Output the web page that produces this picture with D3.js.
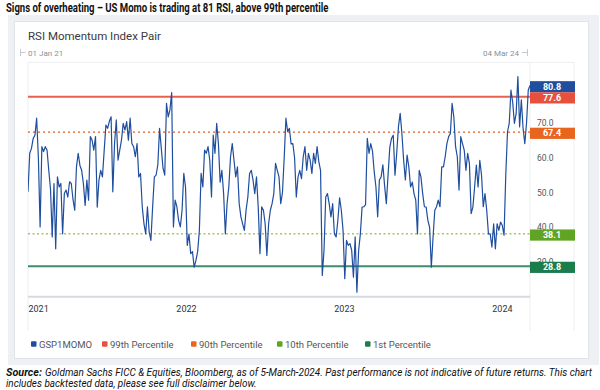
<!DOCTYPE html>
<html><head><meta charset="utf-8">
<script src="https://cdn.jsdelivr.net/npm/d3@7/dist/d3.min.js"></script>
<style>body{margin:0;background:#fff}svg{display:block}</style>
</head><body><svg id="c" width="600" height="390"></svg>
<script>
const title = "Signs of overheating – US Momo is trading at 81 RSI, above 99th percentile";
const cardTitle = "RSI Momentum Index Pair";
const startLabel = "01 Jan 21";
const endLabel = "04 Mar 24";
const startDate = "2021-01-01";
const stepDays = 4;
const seriesName = "GSP1MOMO";
const rsi = [
50.2,61.3,62.7,65.6,66.5,71.4,60.0,40.1,63.2,61.8,
63.2,62.2,56.4,51.0,37.2,52.6,33.8,54.5,51.6,52.6,
38.1,49.7,50.7,48.7,53.1,52.6,48.0,44.9,57.4,61.3,
57.8,56.4,52.6,46.3,53.6,47.8,66.1,65.1,62.2,66.1,
45.8,53.6,56.4,54.5,62.0,69.4,68.5,70.5,71.8,50.2,
64.1,70.9,59.3,62.2,65.1,69.9,68.0,70.4,65.1,71.4,
64.1,63.2,60.3,64.1,54.5,55.5,45.9,41.0,38.1,45.9,
38.6,36.2,45.9,54.5,55.0,58.0,68.5,62.7,57.0,55.0,
75.7,71.8,73.8,78.8,40.1,47.8,45.9,42.0,40.1,44.9,
55.5,51.6,34.8,38.0,32.4,33.0,28.5,30.4,33.0,39.1,
55.5,51.6,62.2,61.3,63.2,59.3,48.7,66.5,61.3,69.9,
64.1,53.0,56.4,49.7,38.1,46.8,51.6,60.3,64.1,59.3,
54.5,57.4,46.8,43.0,41.0,39.1,45.0,48.7,55.5,56.4,
53.6,49.7,54.5,45.8,32.4,45.9,44.9,41.0,31.9,41.0,
44.9,46.8,49.7,58.4,56.4,54.5,46.8,50.0,60.0,71.4,
67.5,68.5,64.0,64.1,60.0,48.7,54.5,56.4,54.0,60.3,
63.2,56.4,61.3,59.3,55.5,61.3,58.4,63.2,58.9,56.4,
26.1,33.3,48.7,49.7,46.8,43.0,46.8,38.1,37.2,42.0,
48.5,44.9,39.1,25.2,36.2,34.8,35.3,33.3,25.6,37.2,
21.3,33.3,38.1,45.8,45.9,46.5,65.6,61.3,64.1,62.0,
56.0,51.6,43.0,53.6,54.5,58.0,52.0,46.8,55.0,63.0,
65.6,66.5,55.0,61.3,68.9,72.8,67.0,59.3,53.6,60.8,
57.4,51.6,53.0,49.7,47.8,38.1,56.4,54.5,49.7,45.9,
45.8,42.0,40.0,28.5,37.2,44.9,45.9,47.8,45.9,57.4,
57.4,60.3,64.1,66.1,67.0,75.7,71.8,63.2,60.3,50.7,
66.1,64.1,62.2,56.4,61.3,58.4,43.9,45.8,51.6,57.9,
51.6,59.3,55.0,45.9,49.7,44.9,38.1,38.1,34.3,41.0,
33.8,41.0,39.1,41.5,40.5,37.7,55.0,67.5,69.9,79.5,
76.0,69.9,72.8,83.4,68.9,76.7,68.5,64.1,70.0,79.5,80.8
];
const yearTicks = ["2021","2022","2023","2024"];
const yTicks = [30,40,50,60,70];
const refNames = ["99th Percentile","90th Percentile","10th Percentile","1st Percentile"];
const refValues = [77.6,67.4,38.1,28.8];
const seriesColor = "#1f4e9e";
const refColors = ["#e8503e","#e8651f","#5fa523","#1b7c4c"];
const refLineColors = ["#e8604e","#e0611f","#7aa820","#3f8c6c"];
const refDash = [null,"2,3","2,2.5",null];
const refWidth = [2,1.4,1,2];
const sourceBold = "Source:";
const sourceLine1 = "Goldman Sachs FICC & Equities, Bloomberg, as of 5-March-2024. Past performance is not indicative of future returns. This chart";
const sourceLine2 = "includes backtested data, please see full disclaimer below.";

const svg = d3.select("#c");
const font = "Roboto, 'Liberation Sans', sans-serif";

// condensed text: shrink font to fit width, stretch vertically to keep glyph height
function fitText(x, y, str, width, size, opts) {
  const t = svg.append("text").attr("x",0).attr("y",0).attr("font-family",font).attr("font-size",size)
    .attr("fill",opts.fill||"#111").attr("font-weight",opts.weight||400).attr("font-style",opts.style||"normal").text(str);
  const w = t.node().getComputedTextLength();
  const fs = size*width/w;
  t.attr("font-size",fs).attr("transform",`translate(${x},${y}) scale(1,${size/fs})`);
  return t;
}

// page title
fitText(6, 11.5, title, 323, 12, {weight:700});

// grey panel + card
svg.append("rect").attr("x",8).attr("y",15).attr("width",591).attr("height",350).attr("fill","#eef0f3").lower();
svg.append("rect").attr("x",14.5).attr("y",21.5).attr("width",574).attr("height",337).attr("fill","#fff").attr("stroke","#e0e3e7");

svg.append("text").attr("x",28).attr("y",40).attr("font-family",font).attr("font-size",11.5).attr("fill","#3a3a3a").text(cardTitle);

// plot frame
const L=28, R=530, AR=574, T=62.3, B=296.7;
const frame = svg.append("g").attr("stroke","#eceef1").attr("stroke-width",1);
frame.append("line").attr("x1",L).attr("x2",AR).attr("y1",T).attr("y2",T);
[L,R,AR].forEach(x=>frame.append("line").attr("x1",x).attr("x2",x).attr("y1",T).attr("y2",331));

// date range header
const hdr = svg.append("g").attr("font-family",font).attr("font-size",8).attr("fill","#8a8f96");
hdr.append("text").attr("x",28).attr("y",55.5).text(startLabel);
hdr.append("text").attr("x",519).attr("y",55.5).attr("text-anchor","end").text(endLabel);
const hl = svg.append("g").attr("stroke","#b9bec5").attr("stroke-width",0.8);
hl.append("line").attr("x1",20.5).attr("x2",20.5).attr("y1",49).attr("y2",56);
hl.append("line").attr("x1",20.5).attr("x2",25.5).attr("y1",52.5).attr("y2",52.5);
hl.append("line").attr("x1",527.5).attr("x2",527.5).attr("y1",49).attr("y2",56);
hl.append("line").attr("x1",522).attr("x2",527.5).attr("y1",52.5).attr("y2",52.5);

// data
const parse = d3.timeParse("%Y-%m-%d");
const t0 = parse(startDate);
const data = rsi.map((v,i)=>({date:d3.timeDay.offset(t0,i*stepDays), value:v}));

const x = d3.scaleTime().domain(d3.extent(data,d=>d.date)).range([L,R]);
const y = d3.scaleLinear().domain([20,87.5]).range([B,T]);

// x axis
svg.append("line").attr("x1",L).attr("x2",R).attr("y1",B).attr("y2",B).attr("stroke","#d6dadf").attr("stroke-width",2);
const xa = svg.append("g").attr("transform",`translate(0,${B})`)
  .call(d3.axisBottom(x).tickValues(yearTicks.map(s=>d3.timeParse("%Y")(s))).tickFormat(d3.timeFormat("%Y")).tickSize(0).tickPadding(9));
xa.select(".domain").remove();
xa.selectAll("text").attr("font-family",font).attr("font-size",9).attr("fill","#333");
xa.selectAll(".tick").filter((d,i)=>i===0).select("text").attr("text-anchor","start");

// y axis (right)
const ya = svg.append("g").attr("transform",`translate(${R},0)`)
  .call(d3.axisRight(y).tickValues(yTicks).tickFormat(d3.format(".1f")).tickSize(0).tickPadding(7));
ya.select(".domain").remove();
ya.selectAll("text").attr("font-family",font).attr("font-size",8.5).attr("fill","#555");

// reference lines
refValues.forEach((v,i)=>{
  svg.append("line").attr("x1",L).attr("x2",R).attr("y1",y(v)).attr("y2",y(v))
    .attr("stroke",refLineColors[i]).attr("stroke-width",refWidth[i]).attr("stroke-dasharray",refDash[i]);
});

// series
svg.append("defs").append("clipPath").attr("id","clip").append("rect").attr("x",L).attr("y",T-20).attr("width",R-L).attr("height",B-T+20);
svg.append("path").datum(data).attr("clip-path","url(#clip)")
  .attr("fill","none").attr("stroke",seriesColor).attr("stroke-width",1.2).attr("stroke-linejoin","round")
  .attr("d",d3.line().x(d=>x(d.date)).y(d=>y(d.value)));

// value boxes
const boxes = [{v:rsi[rsi.length-1],c:seriesColor}].concat(refValues.map((v,i)=>({v,c:refColors[i]})));
boxes.forEach(b=>{
  const cy = y(b.v)+1.2;
  svg.append("rect").attr("x",R).attr("y",cy-5.6).attr("width",AR-R+1).attr("height",11.2).attr("fill",b.c);
  svg.append("text").attr("x",(R+AR)/2).attr("y",cy).attr("dy","0.35em").attr("text-anchor","middle")
    .attr("font-family",font).attr("font-weight",700).attr("font-size",9).attr("fill","#fff").text(d3.format(".1f")(b.v));
});

// legend
const legItems = [seriesName].concat(refNames);
const legColors = [seriesColor].concat(refColors);
const legX = [31, 102, 191, 277, 365];
legItems.forEach((n,i)=>{
  svg.append("rect").attr("x",legX[i]).attr("y",341.3).attr("width",5.5).attr("height",5.5).attr("rx",1).attr("fill",legColors[i]);
  svg.append("text").attr("x",legX[i]+8).attr("y",344.3).attr("dy","0.35em").attr("font-family",font)
    .attr("font-size",9.5).attr("fill","#555").text(n);
});

// source
fitText(6, 375.5, sourceBold, 36, 10, {weight:700, style:"italic"});
fitText(45, 375.5, sourceLine1, 548, 10, {style:"italic"});
fitText(6, 386.5, sourceLine2, 251, 10, {style:"italic"});
</script></body></html>
